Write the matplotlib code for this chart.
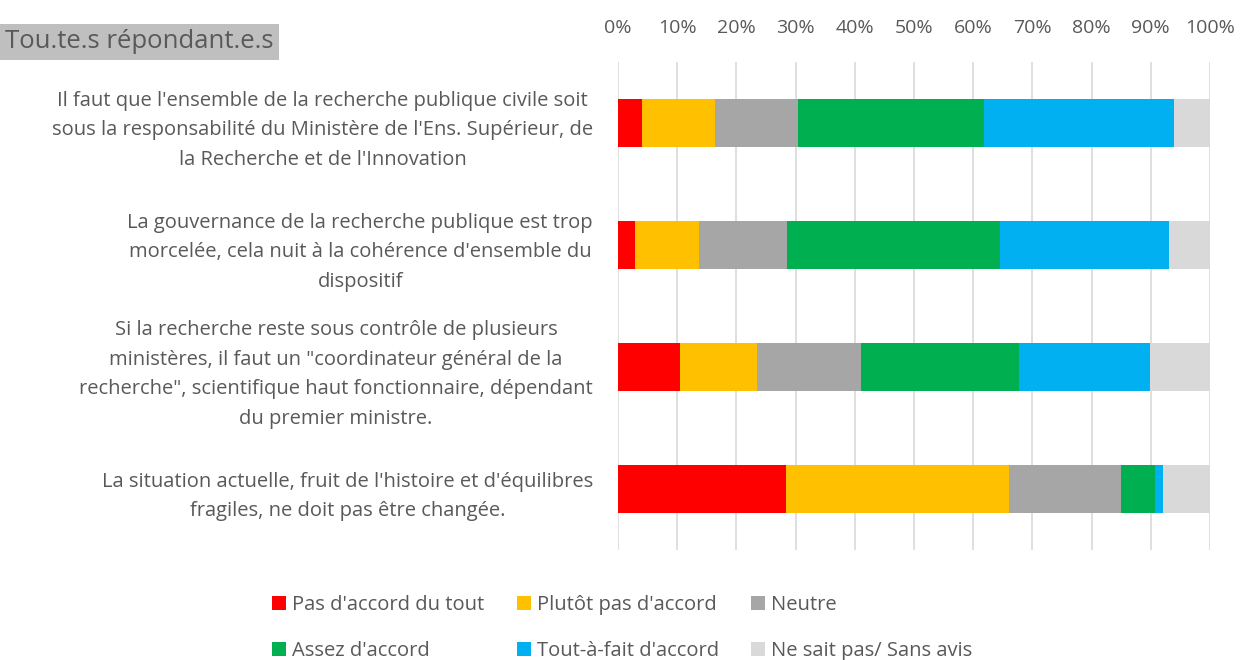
import numpy as np
import matplotlib.pyplot as plt
from matplotlib.patches import Patch

plt.rcParams['font.family'] = ['Open Sans', 'DejaVu Sans']

categories = [
    "Il faut que l'ensemble de la recherche publique civile soit\n"
    "sous la responsabilité du Ministère de l'Ens. Supérieur, de\n"
    "la Recherche et de l'Innovation",
    "La gouvernance de la recherche publique est trop\n"
    "morcelée, cela nuit à la cohérence d'ensemble du\n"
    "dispositif",
    "Si la recherche reste sous contrôle de plusieurs\n"
    "ministères, il faut un \"coordinateur général de la\n"
    "recherche\", scientifique haut fonctionnaire, dépendant\n"
    "du premier ministre.",
    "La situation actuelle, fruit de l'histoire et d'équilibres\n"
    "fragiles, ne doit pas être changée.",
]

series = ["Pas d'accord du tout", "Plutôt pas d'accord", "Neutre",
          "Assez d'accord", "Tout-à-fait d'accord", "Ne sait pas/ Sans avis"]
colors = ['#ff0000', '#ffc000', '#a6a6a6', '#00b050', '#00b0f0', '#d9d9d9']

pas_du_tout = [4.1, 2.8, 10.4, 28.4]
plutot_pas = [12.3, 10.9, 13.1, 37.6]
neutre = [14.0, 14.9, 17.6, 18.9]
assez = [31.4, 35.9, 26.6, 5.8]
tout_a_fait = [32.1, 28.5, 22.1, 1.4]
sans_avis = [6.1, 7.0, 10.2, 7.9]

values = [pas_du_tout, plutot_pas, neutre, assez, tout_a_fait, sans_avis]

TXT = '#595959'

fig = plt.figure(figsize=(12.4, 6.6), dpi=100)
ax = fig.add_axes([618 / 1240, 1 - 550 / 660, (1210 - 618) / 1240, (550 - 62) / 660])

y = np.arange(len(categories))
left = np.zeros(len(categories))
for vals, name, col in zip(values, series, colors):
    ax.barh(y, vals, left=left, height=0.39, color=col, label=name, zorder=3)
    left += np.array(vals)

ax.set_xlim(0, 100)
ax.set_ylim(3.5, -0.5)
ax.set_xticks(np.arange(0, 101, 10))
ax.set_xticklabels([f"{v}%" for v in range(0, 101, 10)])
ax.xaxis.tick_top()
ax.tick_params(axis='x', length=0, pad=18, labelsize=14, colors=TXT)
ax.tick_params(axis='y', length=0, pad=18, labelsize=14.5, colors=TXT)
ax.set_yticks(y)
ax.set_yticklabels(categories, ha='right', multialignment='center', linespacing=1.65)
ax.grid(axis='x', color='#d9d9d9', lw=1.2, zorder=0)
for s in ax.spines.values():
    s.set_visible(False)

fig.text(5 / 1240, 1 - 42 / 660, "Tou.te.s répondant.e.s", fontsize=18.5, color=TXT,
         va='center', ha='left',
         bbox=dict(facecolor='#bfbfbf', edgecolor='none', pad=4))

# legend is filled column by column, reorder so it reads row by row
handles = [Patch(facecolor=c, label=s) for s, c in zip(series, colors)]
order = [0, 3, 1, 4, 2, 5]
handles = [handles[i] for i in order]
fig.legend(handles=handles, ncol=3, loc='center left', bbox_to_anchor=(254 / 1240, 1 - 628 / 660),
           frameon=False, fontsize=14.5, labelcolor=TXT, handlelength=0.7, handleheight=0.7,
           handletextpad=0.3, columnspacing=1.6, labelspacing=1.3)

fig.savefig('out.png', dpi=100)
